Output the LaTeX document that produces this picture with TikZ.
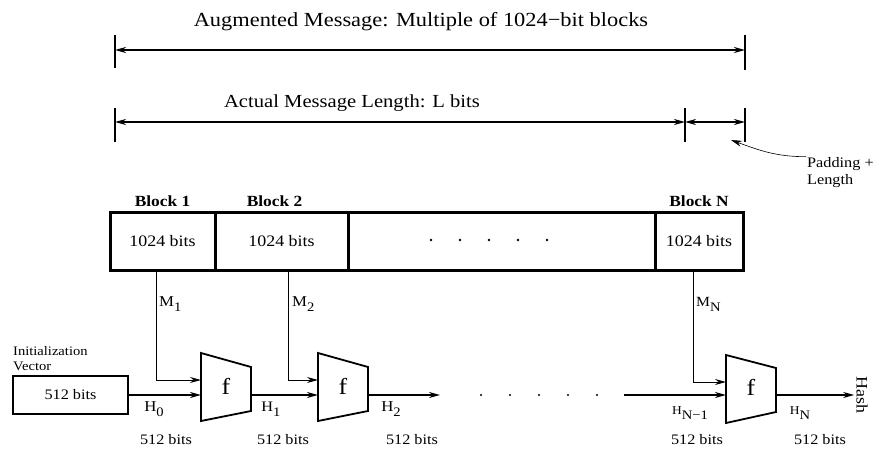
\documentclass[tikz,border=0pt]{standalone}
\usepackage{fontspec}
\setmainfont[FakeStretch=1.12]{Liberation Serif}
\usetikzlibrary{arrows.meta, positioning, calc}
\newcommand{\lowsub}[1]{\raisebox{-5pt}{\fontsize{13}{14}\selectfont #1}}

\begin{document}
\begin{tikzpicture}[
  x=1pt, y=-1pt,
  lbl/.style={font=\fontsize{14.5}{16}\selectfont, inner sep=1pt},
  cell/.style={draw=black, line width=3pt, minimum height=58pt, inner sep=0pt,
    font=\fontsize{16}{18}\selectfont},
  blocklbl/.style={font=\fontsize{15.5}{17}\selectfont\bfseries, inner sep=1pt},
  dimline/.style={{Stealth[length=11pt,width=6pt]}-{Stealth[length=11pt,width=6pt]}, line width=1.6pt},
  tickmark/.style={line width=1.6pt},
  flow/.style={-{Stealth[length=11pt,width=6pt]}, line width=1.6pt},
  msg/.style={-{Stealth[length=11pt,width=6pt]}, line width=1pt},
  fshape/.style={draw=black, line width=1.8pt}
]
\useasboundingbox (0,0) rectangle (879,453);

% dimension lines on top
\coordinate (augL) at (115,50);
\coordinate (augR) at (745,50);
\coordinate (lenL) at (115,122);
\coordinate (lenR) at (685,122);
\coordinate (padR) at (745,122);
\draw[tickmark] ($(augL)+(0,-15)$) -- ($(augL)+(0,18)$);
\draw[tickmark] ($(augR)+(0,-15)$) -- ($(augR)+(0,20)$);
\draw[dimline, line width=2pt] (augL) -- (augR);
\node[font=\fontsize{20}{22}\selectfont] (augtxt) at (421,22) {Augmented Message: Multiple of 1024−bit blocks};

\draw[tickmark] ($(lenL)+(0,-14)$) -- ($(lenL)+(0,20)$);
\draw[tickmark] ($(lenR)+(0,-14)$) -- ($(lenR)+(0,20)$);
\draw[tickmark] ($(padR)+(0,-14)$) -- ($(padR)+(0,20)$);
\draw[dimline] (lenL) -- (lenR);
\draw[dimline] (lenR) -- (padR);
\node[font=\fontsize{18.4}{20}\selectfont] (lentxt) at (352,103) {Actual Message Length: L bits};

% padding callout
\node[lbl, align=left, anchor=west, font=\fontsize{14.5}{17}\selectfont] (padtxt) at (806,173) {Padding +\\Length};
\coordinate (padtip) at (731,140);
\draw[-{Stealth[length=11pt,width=6pt]}, line width=0.6pt] (padtxt.north west) to[out=180, in=-20] (padtip);

% message blocks
\node[cell, minimum width=105pt] (blk1) at (162.5,241) {1024 bits};
\node[cell, minimum width=133pt] (blk2) at (281.5,241) {1024 bits};
\node[cell, minimum width=307pt] (blkmid) at (501.5,241) {};
\node[cell, minimum width=88pt] (blkN) at (699,241) {1024 bits};
\foreach \i in {0,...,4}
  \fill (431+29*\i,240) circle (1.3pt);
\node[blocklbl, above=3pt of blk1] (b1lbl) {Block 1};
\node[blocklbl, above=3pt of blk2.north west, xshift=61pt] (b2lbl) {Block 2};
\node[blocklbl, above=3pt of blkN] (bNlbl) {Block N};

% compression functions
\draw[fshape] (201,353) -- (251,367) -- (251,411) -- (201,421) -- cycle;
\draw[fshape] (318,353) -- (368,367) -- (368,411) -- (318,421) -- cycle;
\draw[fshape] (726,355) -- (776,368) -- (776,412) -- (726,423) -- cycle;
\node[font=\fontsize{23}{25}\selectfont] (f1) at (226,386) {f};
\node[font=\fontsize{23}{25}\selectfont] (f2) at (343,386) {f};
\node[font=\fontsize{23}{25}\selectfont] (fN) at (751,387) {f};
\coordinate (f1m) at (201,380);
\coordinate (f1h) at (201,395);
\coordinate (f1o) at (251,395);
\coordinate (f2m) at (318,380);
\coordinate (f2h) at (318,395);
\coordinate (f2o) at (368,395);
\coordinate (fNm) at (726,382);
\coordinate (fNh) at (726,395);
\coordinate (fNo) at (776,395);

% message inputs
\draw[msg] ([xshift=-6pt]blk1.south) |- (f1m);
\draw[msg] ([xshift=7pt]blk2.south) |- (f2m);
\draw[msg] ([xshift=-6pt]blkN.south) |- (fNm);
\node[lbl, anchor=west, font=\fontsize{15}{17}\selectfont] (m1) at (158,304) {M\lowsub{1}};
\node[lbl, anchor=west, font=\fontsize{15}{17}\selectfont] (m2) at (291,304) {M\lowsub{2}};
\node[lbl, anchor=west, font=\fontsize{14}{17}\selectfont] (mN) at (695,304) {M\lowsub{N}};

% initialization vector
\node[draw=black, line width=1.2pt, minimum width=115pt, minimum height=38pt,
  font=\fontsize{14.5}{16}\selectfont] (iv) at (70.5,395) {512 bits};
\node[lbl, align=left, anchor=south west, font=\fontsize{13}{15}\selectfont] (ivtxt) at (12,372) {Initialization\\Vector};

% chaining values
\coordinate (h2end) at (440,395);
\coordinate (hn1start) at (624,395);
\node[lbl, rotate=-90, inner sep=2pt, font=\fontsize{16}{18}\selectfont] (hash) at (862,395) {Hash};
\draw[flow] (iv.east) -- (f1h);
\draw[flow] (f1o) -- (f2h);
\draw[flow] (f2o) -- (h2end);
\foreach \i in {0,...,4}
  \fill (481+29*\i,395) circle (1.2pt);
\draw[flow] (hn1start) -- (fNh);
\draw[flow] (fNo) -- (hash);

\node[lbl, font=\fontsize{15}{17}\selectfont] (h0) at (154,409) {H\lowsub{0}};
\node[lbl] (h1) at (271,409) {H\lowsub{1}};
\node[lbl, font=\fontsize{15}{17}\selectfont] (h2) at (391,409) {H\lowsub{2}};
\node[lbl, font=\fontsize{12}{14}\selectfont] (hn1) at (690,413) {H\lowsub{N−1}};
\node[lbl, font=\fontsize{12}{14}\selectfont] (hN) at (800,413) {H\lowsub{N}};
\node[lbl] (s0) at (166,440) {512 bits};
\node[lbl] (s1) at (283,440) {512 bits};
\node[lbl] (s2) at (412,440) {512 bits};
\node[lbl] (sn1) at (697,440) {512 bits};
\node[lbl] (sN) at (820,440) {512 bits};
\end{tikzpicture}
\end{document}
